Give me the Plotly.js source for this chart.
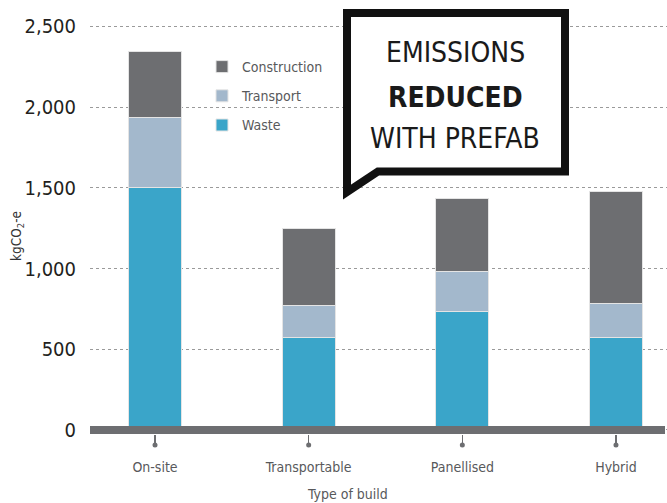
<!DOCTYPE html>
<html>
<head>
<meta charset="utf-8">
<script src="https://cdn.plot.ly/plotly-3.0.1.min.js"></script>
<style>html,body{margin:0;padding:0;background:#fff;}#chart{width:667px;height:503px;}</style>
</head>
<body>
<div id="chart"></div>
<script>
// ---- data ----
const categories = ["On-site", "Transportable", "Panellised", "Hybrid"];
const waste = [1500, 575, 735, 575];
const transport = [435, 195, 248, 210];
const construction = [410, 480, 452, 692];
const yTickVals = [0, 500, 1000, 1500, 2000, 2500];
const yTickText = ["0", "500", "1,000", "1,500", "2,000", "2,500"];

// ---- geometry helpers (pixel -> paper) ----
const L = 90, R = 0, T = 10, B = 69, W = 667, H = 503;
const pw = W - L - R, ph = H - T - B;
const px = x => (x - L) / pw;
const py = y => (H - B - y) / ph;

const FONT = "'DejaVu Sans Condensed', 'DejaVu Sans', sans-serif";
const barLine = {width: 1, color: '#e4e4e4'};

const traces = [
  {type: 'bar', name: 'Waste', x: categories, y: waste, marker: {color: '#3aa5c9', line: barLine}, width: 0.345, legendgroup: 'w', legendrank: 3},
  {type: 'bar', name: 'Transport', x: categories, y: transport, marker: {color: '#a3b8cc', line: barLine}, width: 0.345, legendgroup: 't', legendrank: 2},
  {type: 'bar', name: 'Construction', x: categories, y: construction, marker: {color: '#6d6e71', line: barLine}, width: 0.345, legendgroup: 'c', legendrank: 1}
];

const bubble = 'M' + px(347) + ',' + py(13) + ' L' + px(565) + ',' + py(13) + ' L' + px(565) + ',' + py(171.5) +
  ' L' + px(378) + ',' + py(171.5) + ' L' + px(347) + ',' + py(192) + ' Z';

const shapes = [
  {type: 'line', xref: 'paper', yref: 'y', x0: 0, x1: px(665), y0: 0, y1: 0, line: {color: '#6d6e71', width: 8}, layer: 'above'},
  {type: 'path', xref: 'paper', yref: 'paper', path: bubble, fillcolor: '#ffffff', line: {color: '#111111', width: 8}, layer: 'above'}
];
categories.forEach((c, i) => {
  shapes.push({type: 'circle', xref: 'x', yref: 'paper', xsizemode: 'pixel', ysizemode: 'pixel',
    xanchor: i, yanchor: py(445), x0: -2.5, x1: 2.5, y0: -2.5, y1: 2.5,
    fillcolor: '#6d6e71', line: {width: 0}});
});

const ann = (x, y, text, size, color, extra) => Object.assign({
  xref: 'paper', yref: 'paper', x: px(x), y: py(y), xanchor: 'center', yanchor: 'middle',
  text: text, showarrow: false, font: {family: FONT, size: size, color: color}
}, extra || {});

const annotations = [
  ann(455, 53, 'EMISSIONS', 28, '#1a1a1a'),
  ann(455, 97, '<b>REDUCED</b>', 28, '#1a1a1a'),
  ann(455, 139, 'WITH PREFAB', 28, '#1a1a1a'),
  ann(17, 236, 'kgCO<sub>2</sub>-e', 13.5, '#333333', {textangle: -90}),
  ann(347, 494, 'Type of build', 14, '#58595b')
];

const layout = {
  width: W, height: H,
  margin: {l: L, r: R, t: T, b: B},
  paper_bgcolor: '#fff', plot_bgcolor: '#fff',
  barmode: 'stack',
  showlegend: true,
  legend: {x: px(202), xanchor: 'left', y: py(51), yanchor: 'top', traceorder: 'grouped', tracegroupgap: 8,
    font: {family: FONT, size: 14, color: '#58595b'}, bgcolor: 'rgba(0,0,0,0)'},
  xaxis: {type: 'category', range: [-0.423, 3.332], showgrid: false, zeroline: false, showline: false,
    ticks: 'outside', ticklen: 12, tickwidth: 1.5, tickcolor: '#6d6e71',
    tickfont: {family: FONT, size: 14, color: '#58595b'}, ticklabelstandoff: 8},
  yaxis: {range: [-25, 2602], tickvals: yTickVals, ticktext: yTickText, showgrid: true, gridcolor: '#9a9a9a', griddash: 'dot', gridwidth: 1,
    zeroline: false, showline: false, ticks: '', ticklabelstandoff: 13,
    tickfont: {family: FONT, size: 20, color: '#231f20'}},
  shapes: shapes,
  annotations: annotations,
  font: {family: FONT}
};

Plotly.newPlot('chart', traces, layout, {displayModeBar: false, staticPlot: true});
</script>
</body>
</html>
